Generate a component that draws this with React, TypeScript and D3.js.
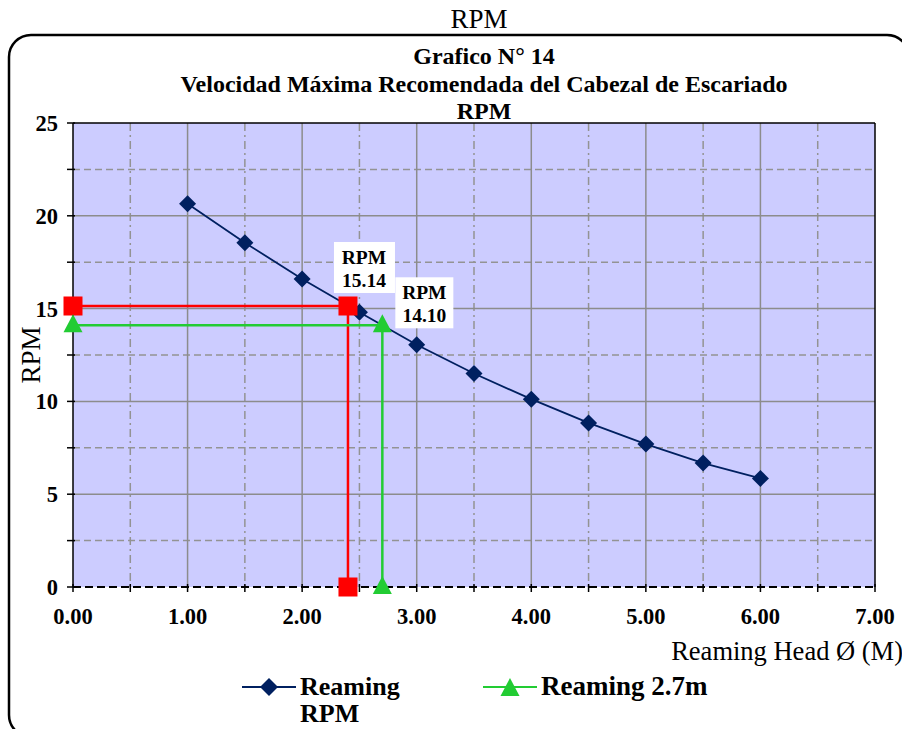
import React from "react";
import * as d3 from "d3";

const diameters = [1.0, 1.5, 2.0, 2.5, 3.0, 3.5, 4.0, 4.5, 5.0, 5.5, 6.0];
const rpmValues = [20.65, 18.55, 16.6, 14.8, 13.05, 11.5, 10.12, 8.84, 7.7, 6.68, 5.85];
const redX = [0, 2.4, 2.4];
const redY = [15.14, 15.14, 0];
const greenX = [0, 2.7, 2.7];
const greenY = [14.1, 14.1, 0];
const xTicks = [0, 1, 2, 3, 4, 5, 6, 7];
const yTicks = [0, 5, 10, 15, 20, 25];
const xMinor = [0.5, 1.5, 2.5, 3.5, 4.5, 5.5, 6.5];
const yMinor = [2.5, 7.5, 12.5, 17.5, 22.5];
const titleLines = ["Grafico N° 14", "Velocidad Máxima Recomendada del Cabezal de Escariado", "RPM"];

export default function App() {
  const W = 902, H = 729;
  const L = 73, R = 875, T = 123, B = 587;
  const x = d3.scaleLinear().domain([0, 7]).range([L, R]);
  const y = d3.scaleLinear().domain([0, 25]).range([B, T]);
  const line = d3.line<[number, number]>().x(d => x(d[0])).y(d => y(d[1]));
  const font = "'Liberation Serif', 'Times New Roman', serif";
  const mainPts: [number, number][] = diameters.map((d, i) => [d, rpmValues[i]]);
  const redPts: [number, number][] = redX.map((d, i) => [d, redY[i]]);
  const greenPts: [number, number][] = greenX.map((d, i) => [d, greenY[i]]);
  const diamond = (cx: number, cy: number, s = 8.5) => `M${cx},${cy - s}L${cx + s},${cy}L${cx},${cy + s}L${cx - s},${cy}Z`;
  const tri = (cx: number, cy: number) => `M${cx},${cy - 11}L${cx + 9.5},${cy + 7}L${cx - 9.5},${cy + 7}Z`;

  return (
    <svg width={W} height={H} fontFamily={font} style={{ position: "absolute", left: 0, top: 0 }}>
      <rect x={0} y={0} width={W} height={H} fill="white" />
      <text x={479} y={28} textAnchor="middle" fontSize={27}>RPM</text>
      <rect x={9} y={35} width={900} height={702} rx={22} ry={22} fill="none" stroke="black" strokeWidth={2.5} />
      {titleLines.map((t, i) => (
        <text key={i} x={484} y={64 + i * 27.5} textAnchor="middle" fontSize={24} fontWeight="bold">{t}</text>
      ))}
      <rect x={L} y={T} width={R - L} height={B - T} fill="#ccccff" />
      {xMinor.map(v => (
        <line key={"xm" + v} x1={x(v)} x2={x(v)} y1={T} y2={B} stroke="#939393" strokeWidth={1.5} strokeDasharray="8,4,2,4" />
      ))}
      {yMinor.map(v => (
        <line key={"ym" + v} x1={L} x2={R} y1={y(v)} y2={y(v)} stroke="#939393" strokeWidth={1.5} strokeDasharray="7,4" />
      ))}
      {xTicks.slice(1, -1).map(v => (
        <line key={"xg" + v} x1={x(v)} x2={x(v)} y1={T} y2={B} stroke="#8c8c8c" strokeWidth={1.5} />
      ))}
      {yTicks.slice(1, -1).map(v => (
        <line key={"yg" + v} x1={L} x2={R} y1={y(v)} y2={y(v)} stroke="#8c8c8c" strokeWidth={1.5} />
      ))}
      <line x1={L} x2={R} y1={T} y2={T} stroke="black" strokeWidth={1.5} />
      <line x1={R} x2={R} y1={T} y2={B} stroke="black" strokeWidth={1.5} />
      <line x1={L} x2={L} y1={T} y2={B} stroke="black" strokeWidth={1.5} />
      <line x1={L} x2={R} y1={B} y2={B} stroke="black" strokeWidth={2} strokeDasharray="8,4" />
      {[...xTicks, ...xMinor].map(v => (
        <line key={"xt" + v} x1={x(v)} x2={x(v)} y1={B - 3} y2={B + 5} stroke="black" strokeWidth={1.5} />
      ))}
      {[...yTicks, ...yMinor].map(v => (
        <line key={"yt" + v} x1={L - 6} x2={L + 2} y1={y(v)} y2={y(v)} stroke="black" strokeWidth={1.5} />
      ))}
      {xTicks.map(v => (
        <text key={"xl" + v} x={x(v)} y={624} textAnchor="middle" fontSize={22.5} fontWeight="bold">{v.toFixed(2)}</text>
      ))}
      {yTicks.map(v => (
        <text key={"yl" + v} x={58} y={y(v) + 8} textAnchor="end" fontSize={22.5} fontWeight="bold">{v}</text>
      ))}
      <text transform={`translate(40,${(T + B) / 2}) rotate(-90)`} textAnchor="middle" fontSize={27}>RPM</text>
      <text x={903} y={660} textAnchor="end" fontSize={26.5}>Reaming Head Ø (M)</text>

      <path d={line(redPts) || ""} fill="none" stroke="#ff0000" strokeWidth={2.5} />
      <path d={line(greenPts) || ""} fill="none" stroke="#22cc33" strokeWidth={2.5} />
      <path d={line(mainPts) || ""} fill="none" stroke="#002060" strokeWidth={1.8} />
      {mainPts.map((p, i) => (
        <path key={"d" + i} d={diamond(x(p[0]), y(p[1]))} fill="#002060" />
      ))}
      {redPts.map((p, i) => (
        <rect key={"r" + i} x={x(p[0]) - 9.5} y={y(p[1]) - 9.5} width={19} height={19} fill="#ff0000" />
      ))}
      {greenPts.map((p, i) => (
        <path key={"g" + i} d={tri(x(p[0]), y(p[1]))} fill="#22cc33" />
      ))}

      <rect x={x(redX[1]) - 14} y={y(redY[1]) - 64} width={61} height={51} fill="white" />
      <text x={x(redX[1]) + 16} y={y(redY[1]) - 42} textAnchor="middle" fontSize={19.5} fontWeight="bold">RPM</text>
      <text x={x(redX[1]) + 16} y={y(redY[1]) - 19} textAnchor="middle" fontSize={19.5} fontWeight="bold">15.14</text>
      <rect x={x(greenX[1]) + 13} y={y(greenY[1]) - 48} width={58} height={51} fill="white" />
      <text x={x(greenX[1]) + 42} y={y(greenY[1]) - 26} textAnchor="middle" fontSize={19.5} fontWeight="bold">RPM</text>
      <text x={x(greenX[1]) + 42} y={y(greenY[1]) - 3} textAnchor="middle" fontSize={19.5} fontWeight="bold">14.10</text>

      <line x1={242} x2={296} y1={687} y2={687} stroke="#002060" strokeWidth={2} />
      <path d={diamond(269, 687, 9)} fill="#002060" />
      <text x={300} y={695} fontSize={26} fontWeight="bold">Reaming</text>
      <text x={300} y={722} fontSize={26} fontWeight="bold">RPM</text>
      <line x1={483} x2={537} y1={687} y2={687} stroke="#22cc33" strokeWidth={2} />
      <path d={tri(510, 689)} fill="#22cc33" />
      <text x={541} y={695} fontSize={27} fontWeight="bold">Reaming 2.7m</text>
    </svg>
  );
}
